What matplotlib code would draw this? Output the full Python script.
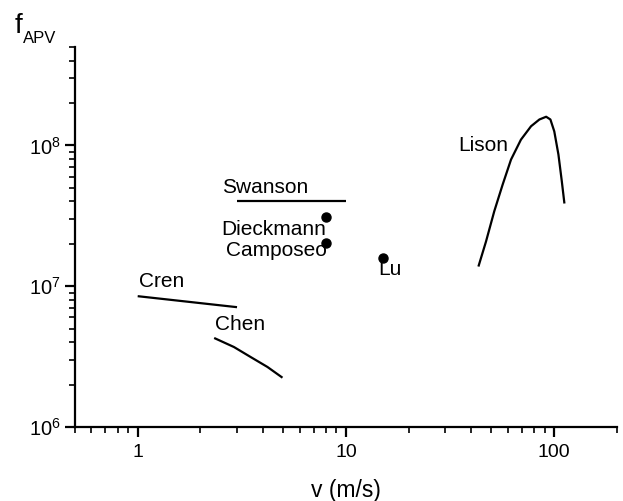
import matplotlib
matplotlib.use("Agg")
import matplotlib.pyplot as plt
from matplotlib.ticker import LogLocator, NullFormatter

plt.rcParams['font.family'] = ['Liberation Sans', 'DejaVu Sans']
plt.rcParams['mathtext.fontset'] = 'custom'
plt.rcParams['mathtext.rm'] = 'Liberation Sans'
plt.rcParams['mathtext.it'] = 'Liberation Sans'

# Data (v in m/s, f_APV)
swanson_v = [3, 10]
swanson_f = [4.0e7, 4.0e7]

cren_v = [1.0, 3.0]
cren_f = [8.5e6, 7.1e6]

chen_v = [2.33, 2.90, 3.49, 4.20, 4.96]
chen_f = [4.29e6, 3.70e6, 3.14e6, 2.67e6, 2.24e6]

lison_v = [43.3, 47.1, 51.6, 56.6, 62.1, 69.3, 77.5, 85.0, 91.6, 96.0,
           100.2, 104.9, 108.9, 112.1]
lison_f = [1.38e7, 2.08e7, 3.41e7, 5.27e7, 7.94e7, 1.10e8, 1.37e8, 1.53e8,
           1.60e8, 1.53e8, 1.26e8, 8.63e7, 5.57e7, 3.87e7]

point_names = ['Dieckmann', 'Camposeo', 'Lu']
point_v = [8.0, 8.0, 15.0]
point_f = [3.1e7, 2.04e7, 1.6e7]

labels = ['Swanson', 'Dieckmann', 'Camposeo', 'Lu', 'Cren', 'Chen', 'Lison']
label_v = [2.53, 2.53, 2.65, 14.3, 1.01, 2.34, 34.6]
label_f = [5.0e7, 2.52e7, 1.79e7, 1.31e7, 1.08e7, 5.32e6, 1.00e8]

fig = plt.figure(figsize=(6.23, 5.01), dpi=100)
ax = fig.add_axes([0.1204, 0.1477, 0.990 - 0.1204, 0.906 - 0.1477])

lw = 1.6
for v, f in [(swanson_v, swanson_f), (cren_v, cren_f), (chen_v, chen_f), (lison_v, lison_f)]:
    ax.plot(v, f, color='black', lw=lw, solid_capstyle='butt', solid_joinstyle='round')
ax.plot(point_v, point_f, 'o', color='black', markersize=6.5, linestyle='none')

for t, x, y in zip(labels, label_v, label_f):
    ax.text(x, y, t, fontsize=15, ha='left', va='center')

ax.set_xscale('log')
ax.set_yscale('log')
ax.set_xlim(0.5, 200)
ax.set_ylim(1e6, 5e8)

ax.spines['top'].set_visible(False)
ax.spines['right'].set_visible(False)
for s in ['left', 'bottom']:
    ax.spines[s].set_linewidth(1.6)

ax.xaxis.set_minor_locator(LogLocator(base=10, subs=range(2, 10), numticks=20))
ax.yaxis.set_major_locator(LogLocator(base=10, numticks=10))
ax.yaxis.set_minor_locator(LogLocator(base=10, subs=range(2, 10), numticks=20))
ax.xaxis.set_minor_formatter(NullFormatter())
ax.yaxis.set_minor_formatter(NullFormatter())
ax.set_xticks([1, 10, 100])
ax.set_xticklabels(['1', '10', '100'])

ax.tick_params(which='major', direction='out', length=7, width=1.6, labelsize=14, pad=5)
ax.tick_params(axis='y', which='major', labelsize=14.5, pad=3)
ax.tick_params(which='minor', direction='out', length=4, width=1.2)

ax.set_xlabel('v (m/s)', fontsize=16.5, labelpad=13)

fig.text(15 / 623, 1 - 33 / 501, 'f', fontsize=20, ha='left', va='baseline')
fig.text(23 / 623, 1 - 43 / 501, 'APV', fontsize=12, ha='left', va='baseline')

fig.savefig('out.png', dpi=100)
